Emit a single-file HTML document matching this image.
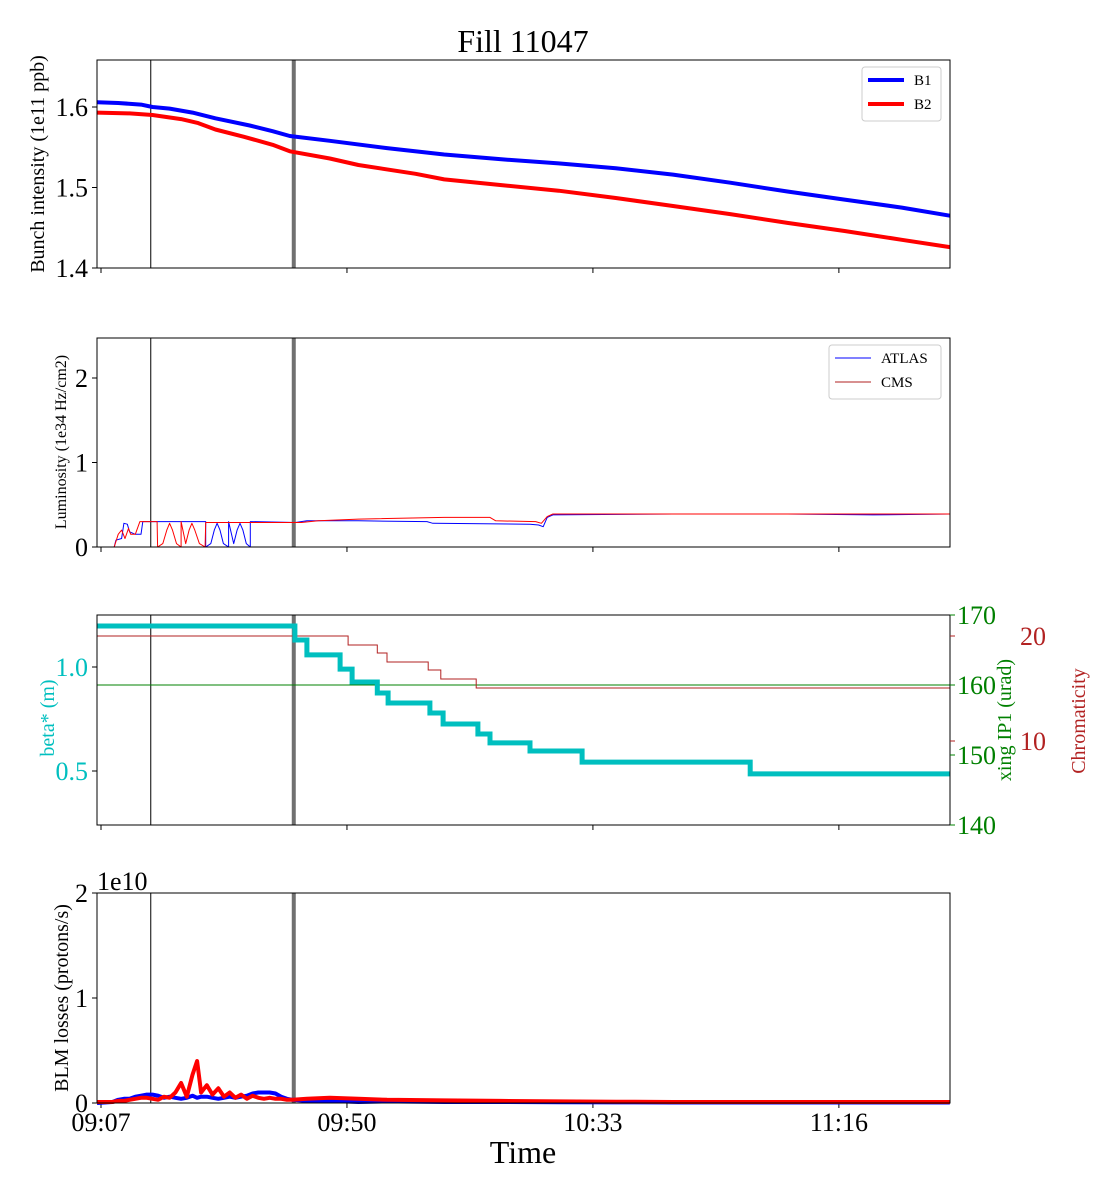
<!DOCTYPE html>
<html><head><meta charset="utf-8"><style>
html,body{margin:0;padding:0;background:#fff;}
svg{display:block;font-family:"Liberation Serif","DejaVu Serif",serif;}
</style></head><body>
<svg id="chart" width="1120" height="1200" viewBox="0 0 1120 1200" xmlns="http://www.w3.org/2000/svg">
<rect width="1120" height="1200" fill="#fff"/>
<text x="523" y="52" font-size="32" text-anchor="middle">Fill 11047</text>
</svg>
<script>
// ---- data (time in minutes after 09:07) ----
const tickTimes = [0, 43, 86, 129];
const tickLabels = ["09:07", "09:50", "10:33", "11:16"];
const markerTimes = [8.7, 33.7];

const b1T = [-0.7, 3, 7, 9, 12, 16, 20, 26, 30, 33, 40, 50, 60, 70, 80, 90, 100, 110, 120, 130, 140, 148.4];
const b1V = [1.606, 1.605, 1.603, 1.600, 1.598, 1.593, 1.586, 1.577, 1.570, 1.564, 1.558, 1.549, 1.541, 1.535, 1.530, 1.524, 1.516, 1.506, 1.495, 1.485, 1.475, 1.465];
const b2T = [-0.7, 5, 9, 14, 17, 20, 25, 30, 33, 40, 45, 55, 60, 70, 80, 90, 100, 110, 120, 130, 140, 148.4];
const b2V = [1.593, 1.592, 1.590, 1.585, 1.580, 1.572, 1.563, 1.553, 1.545, 1.536, 1.528, 1.517, 1.510, 1.503, 1.496, 1.487, 1.477, 1.467, 1.456, 1.446, 1.435, 1.426];

const atlasT = [-0.7, 2.3, 2.6, 3.6, 4.0, 4.6, 5.0, 6.0, 7.0, 7.3, 18.3, 18.3, 19.2, 19.8, 20.3, 20.8, 21.4, 22.3, 22.3, 23.2, 23.8, 24.3, 24.8, 25.4, 26.1, 26.1, 34, 36, 45, 57, 58, 75, 76.5, 77.3, 78, 79, 100, 120, 135, 148.4];
const atlasV = [0, 0, 0.08, 0.1, 0.28, 0.27, 0.18, 0.15, 0.15, 0.30, 0.30, 0, 0.04, 0.2, 0.28, 0.2, 0.04, 0, 0.3, 0.04, 0.2, 0.28, 0.2, 0.04, 0, 0.3, 0.29, 0.31, 0.31, 0.30, 0.28, 0.27, 0.26, 0.24, 0.35, 0.38, 0.39, 0.39, 0.38, 0.39];
const cmsT = [-0.7, 2.3, 3.0, 3.6, 4.2, 4.8, 5.2, 6.0, 6.8, 7.2, 9.8, 9.9, 10.8, 11.5, 12.0, 12.5, 13.2, 14.0, 14.0, 14.8, 15.4, 15.9, 16.4, 17.2, 18.2, 18.3, 35, 38, 45, 60, 68, 69, 76, 77, 78, 79, 100, 120, 148.4];
const cmsV = [0, 0, 0.15, 0.2, 0.1, 0.22, 0.15, 0.15, 0.3, 0.3, 0.3, 0, 0.04, 0.2, 0.28, 0.2, 0.04, 0, 0.3, 0.04, 0.2, 0.28, 0.2, 0.04, 0, 0.29, 0.29, 0.31, 0.33, 0.35, 0.35, 0.31, 0.30, 0.28, 0.36, 0.39, 0.39, 0.39, 0.39];

const betaT = [-0.7, 33.9, 36.0, 41.8, 43.9, 48.3, 50.2, 57.5, 59.8, 65.9, 68.0, 75.0, 84.1, 113.5, 148.4];
const betaV = [1.197, 1.130, 1.058, 0.990, 0.928, 0.875, 0.827, 0.779, 0.726, 0.678, 0.635, 0.596, 0.543, 0.486, 0.486];
const xingT = [-0.7, 148.4];
const xingV = [160, 160];
const chromaT = [-0.7, 43.2, 48.3, 50.0, 57.2, 59.4, 65.6, 148.4];
const chromaV = [20.0, 19.14, 18.38, 17.52, 16.76, 15.9, 15.05, 15.05];

const blmT = [-0.7, 2, 3, 4, 5, 6, 7, 8, 9, 10, 11, 12, 13, 14, 15, 16, 16.8, 17.5, 18.5, 19.5, 20.5, 21.5, 22.5, 23.5, 24.5, 25.5, 26.5, 27.5, 28.5, 29.5, 30.5, 31.5, 32.5, 33.5, 36, 40, 45, 50, 60, 70, 80, 90, 100, 120, 148.4];
const blmB1 = [0, 0.01, 0.03, 0.04, 0.04, 0.06, 0.07, 0.08, 0.08, 0.07, 0.05, 0.06, 0.05, 0.04, 0.05, 0.07, 0.05, 0.06, 0.06, 0.05, 0.04, 0.05, 0.06, 0.05, 0.06, 0.07, 0.09, 0.10, 0.10, 0.10, 0.09, 0.06, 0.04, 0.03, 0.02, 0.02, 0.01, 0.015, 0.01, 0.01, 0.008, 0.006, 0.005, 0.005, 0.005];
const blmB2 = [0.01, 0.01, 0.02, 0.02, 0.03, 0.04, 0.05, 0.05, 0.04, 0.03, 0.06, 0.05, 0.10, 0.19, 0.06, 0.27, 0.40, 0.10, 0.17, 0.08, 0.14, 0.06, 0.10, 0.05, 0.08, 0.04, 0.07, 0.05, 0.04, 0.05, 0.04, 0.04, 0.03, 0.03, 0.04, 0.05, 0.04, 0.03, 0.025, 0.02, 0.015, 0.012, 0.01, 0.01, 0.01];

// ---- layout ----
const NS = "http://www.w3.org/2000/svg";
const svg = document.getElementById("chart");
const L = 97, R = 950;
const xs = t => 101 + 5.72 * t;
function el(tag, attrs, parent, text) {
  const e = document.createElementNS(NS, tag);
  for (const k in attrs) e.setAttribute(k, attrs[k]);
  if (text !== undefined) e.textContent = text;
  (parent || svg).appendChild(e);
  return e;
}
function lin(d0, d1, p0, p1) { return v => p0 + (v - d0) * (p1 - p0) / (d1 - d0); }
function poly(T, V, ys, color, w, name) {
  let d = "";
  T.forEach((t, i) => { d += (i ? "L" : "M") + xs(t).toFixed(1) + "," + ys(V[i]).toFixed(1); });
  const p = el("path", { d: d, fill: "none", stroke: color, "stroke-width": w, "stroke-linejoin": "round" });
  
  
  return p;
}
function steps(T, V, ys, color, w, name) {
  let d = "";
  T.forEach((t, i) => {
    if (i === 0) d += "M" + xs(t).toFixed(1) + "," + ys(V[i]).toFixed(1);
    else d += "L" + xs(t).toFixed(1) + "," + ys(V[i - 1]).toFixed(1) + "L" + xs(t).toFixed(1) + "," + ys(V[i]).toFixed(1);
  });
  const p = el("path", { d: d, fill: "none", stroke: color, "stroke-width": w });
  
  
  return p;
}
function frame(top, bot, name, showLabels) {
  const g = el("g", {});
  
  
  tickTimes.forEach((t, i) => {
    el("line", { x1: xs(t), x2: xs(t), y1: bot, y2: bot + 5, stroke: "#000", "stroke-width": 1 }, g);
    if (showLabels) {
      const tx = el("text", { x: xs(t), y: bot + 28, "font-size": 26, "text-anchor": "middle" }, g, tickLabels[i]);
      
      
    }
  });
  markerTimes.forEach((t, i) => {
    el("line", { x1: xs(t), x2: xs(t), y1: top, y2: bot, stroke: i ? "#707070" : "#000", "stroke-width": i ? 4 : 1 }, g);
  });
  return g;
}
function border(top, bot) {
  el("rect", { x: L, y: top, width: R - L, height: bot - top, fill: "none", stroke: "#000", "stroke-width": 1 });
}
function yticks(vals, labels, ys, x, color, anchor, size, side) {
  vals.forEach((v, i) => {
    const y = ys(v);
    if (side === "left") el("line", { x1: L - 5, x2: L, y1: y, y2: y, stroke: "#000" });
    else el("line", { x1: R, x2: R + 5, y1: y, y2: y, stroke: color });
    const t = el("text", { x: x, y: y + 9, "font-size": size, fill: color, "text-anchor": anchor }, svg, labels[i]);
    
    
  });
}
function ylabel(text, x, cy, size, color, name) {
  const t = el("text", { x: x, y: cy, "font-size": size, fill: color, "text-anchor": "middle", transform: `rotate(-90 ${x} ${cy})` }, svg, text);
  
  
}

// Panel 1
const y1 = lin(1.4, 1.6, 268, 107);
frame(60, 268, "intensity-panel", false);
poly(b1T, b1V, y1, "#0000ff", 4, "b1-intensity-line");
poly(b2T, b2V, y1, "#ff0000", 4, "b2-intensity-line");
border(60, 268);
yticks([1.4, 1.5, 1.6], ["1.4", "1.5", "1.6"], y1, 88, "#000", "end", 26, "left");
ylabel("Bunch intensity (1e11 ppb)", 44, 164, 20, "#000", "intensity-y-title");
{
  const g = el("g", {});  
  el("rect", { x: 862, y: 67, width: 79, height: 54, rx: 3, fill: "#fff", stroke: "#ccc" }, g);
  el("line", { x1: 868, x2: 904, y1: 80, y2: 80, stroke: "#0000ff", "stroke-width": 4 }, g);
  el("line", { x1: 868, x2: 904, y1: 104, y2: 104, stroke: "#ff0000", "stroke-width": 4 }, g);
  el("text", { x: 914, y: 85, "font-size": 15 }, g, "B1");
  el("text", { x: 914, y: 109, "font-size": 15 }, g, "B2");
}

// Panel 2
const y2 = lin(0, 1, 547, 462.5);
frame(338, 547, "luminosity-panel", false);
poly(atlasT, atlasV, y2, "#0000ff", 1, "atlas-lumi-line");
poly(cmsT, cmsV, y2, "#ff0000", 1, "cms-lumi-line");
border(338, 547);
yticks([0, 1, 2], ["0", "1", "2"], y2, 88, "#000", "end", 26, "left");
ylabel("Luminosity (1e34 Hz/cm2)", 66, 442, 16, "#000", "luminosity-y-title");
{
  const g = el("g", {});  
  el("rect", { x: 829, y: 345, width: 112, height: 54, rx: 3, fill: "#fff", stroke: "#ccc" }, g);
  el("line", { x1: 835, x2: 871, y1: 358, y2: 358, stroke: "#0000ff", "stroke-width": 1 }, g);
  el("line", { x1: 835, x2: 871, y1: 382, y2: 382, stroke: "#b22222", "stroke-width": 1 }, g);
  el("text", { x: 881, y: 363, "font-size": 15 }, g, "ATLAS");
  el("text", { x: 881, y: 387, "font-size": 15 }, g, "CMS");
}

// Panel 3
const y3 = lin(1.0, 0.5, 667, 771);
const y3x = lin(140, 170, 825, 615);
const y3c = lin(10, 20, 741, 636);
frame(615, 825, "optics-panel", false);
poly(xingT, xingV, y3x, "#008000", 1, "xing-line");
steps(chromaT, chromaV, y3c, "#b22222", 1, "chromaticity-line");
steps(betaT, betaV, y3, "#00bfbf", 5, "beta-star-line");
border(615, 825);
yticks([0.5, 1.0], ["0.5", "1.0"], y3, 88, "#00bfbf", "end", 26, "left");
yticks([140, 150, 160, 170], ["140", "150", "160", "170"], y3x, 957, "#008000", "start", 26, "right");
yticks([10, 20], ["10", "20"], y3c, 1020, "#b22222", "start", 26, "right");
ylabel("beta* (m)", 54, 718, 20, "#00bfbf", "beta-y-title");
ylabel("xing IP1 (urad)", 1011, 720, 20, "#008000", "xing-y-title");
ylabel("Chromaticity", 1085, 721, 20, "#b22222", "chromaticity-y-title");

// Panel 4
const y4 = lin(0, 1, 1103, 998);
frame(893, 1103, "blm-panel", true);
poly(blmT, blmB1, y4, "#0000ff", 4, "blm-b1-line");
poly(blmT, blmB2, y4, "#ff0000", 4, "blm-b2-line");
border(893, 1103);
yticks([0, 1, 2], ["0", "1", "2"], y4, 88, "#000", "end", 26, "left");
{ const t = el("text", { x: 97, y: 890, "font-size": 26 }, svg, "1e10");   }
ylabel("BLM losses (protons/s)", 68, 998, 20, "#000", "blm-y-title");
{ const t = el("text", { x: 523, y: 1163, "font-size": 32, "text-anchor": "middle" }, svg, "Time");   }
</script>
</body></html>
